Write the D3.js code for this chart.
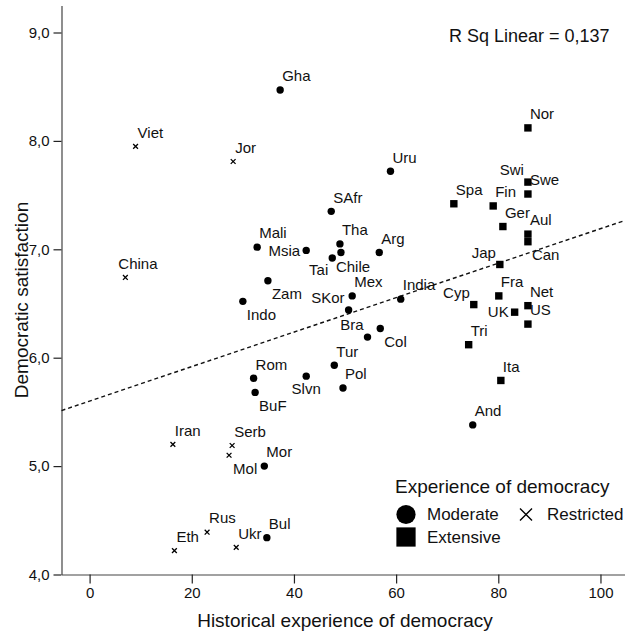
<!DOCTYPE html>
<html>
<head>
<meta charset="utf-8">
<script src="https://cdn.jsdelivr.net/npm/d3@7"></script>
<style>
  body { margin: 0; background: #fff; }
  svg { display: block; font-family: "Liberation Sans", Arial, sans-serif; }
</style>
</head>
<body>
<div id="chart"></div>
<script>
// data
const countries = ['Viet', 'Jor', 'China', 'Iran', 'Serb', 'Mol', 'Rus', 'Eth', 'Ukr',
  'Gha', 'SAfr', 'Uru', 'Mali', 'Msia', 'Zam', 'Indo', 'Tai', 'Tha', 'Chile', 'Arg', 'Mex',
  'SKor', 'India', 'Bra', 'Col', 'Tur', 'Pol', 'Slvn', 'Rom', 'BuF', 'Mor', 'Bul', 'And',
  'Nor', 'Swi', 'Swe', 'Fin', 'Spa', 'Ger', 'Aul', 'Can', 'Jap', 'Fra', 'Net', 'US', 'UK',
  'Cyp', 'Tri', 'Ita'];
const democracyHistory = [9.0, 28.1, 7.0, 16.3, 27.9, 27.3, 23.0, 16.6, 28.7,
  37.3, 47.3, 58.9, 32.8, 42.4, 34.9, 30.0, 47.5, 49.0, 49.2, 56.7, 51.4,
  50.7, 60.9, 54.4, 56.9, 47.9, 49.6, 42.4, 32.1, 32.4, 34.2, 34.7, 75.0,
  85.8, 85.8, 85.8, 79.0, 71.3, 80.9, 85.8, 85.8, 80.3, 80.1, 85.8, 85.8, 83.2,
  75.2, 74.2, 80.5];
const satisfaction = [7.95, 7.81, 6.74, 5.20, 5.19, 5.10, 4.39, 4.22, 4.25,
  8.47, 7.35, 7.72, 7.02, 6.99, 6.71, 6.52, 6.92, 7.05, 6.97, 6.97, 6.57,
  6.44, 6.54, 6.19, 6.27, 5.93, 5.72, 5.83, 5.81, 5.68, 5.00, 4.34, 5.38,
  8.12, 7.62, 7.51, 7.40, 7.42, 7.21, 7.14, 7.07, 6.86, 6.57, 6.48, 6.31, 6.42,
  6.49, 6.12, 5.79];
const experience = ['Restricted', 'Restricted', 'Restricted', 'Restricted', 'Restricted',
  'Restricted', 'Restricted', 'Restricted', 'Restricted',
  'Moderate', 'Moderate', 'Moderate', 'Moderate', 'Moderate', 'Moderate', 'Moderate',
  'Moderate', 'Moderate', 'Moderate', 'Moderate', 'Moderate', 'Moderate', 'Moderate',
  'Moderate', 'Moderate', 'Moderate', 'Moderate', 'Moderate', 'Moderate', 'Moderate',
  'Moderate', 'Moderate', 'Moderate',
  'Extensive', 'Extensive', 'Extensive', 'Extensive', 'Extensive', 'Extensive', 'Extensive',
  'Extensive', 'Extensive', 'Extensive', 'Extensive', 'Extensive', 'Extensive', 'Extensive',
  'Extensive', 'Extensive'];
// where each label sits relative to its point
const labelPos = ['ne', 'ne', 'n', 'ne', 'ne', 'se', 'ne', 'ne', 'ne',
  'ne', 'ne', 'ne', 'ne', 'w', 'se', 'se', 'sw', 'ne', 's', 'ne', 'ne',
  'nw', 'ne', 'nw', 'se', 'ne', 'ne', 'sc', 'ne', 'se', 'ne', 'ne', 'ne',
  'ne', 'nw', 'ne', 'ne', 'ne', 'ne', 'ne', 'se', 'nw', 'ne', 'ne', 'ne', 'w',
  'nw', 'ne', 'ne'];
const xTicks = [0, 20, 40, 60, 80, 100];
const yTicks = [4, 5, 6, 7, 8, 9];
const fitIntercept = 5.60;
const fitSlope = 0.0159;
const rSquared = '0,137';
const legendGroups = ['Moderate', 'Restricted', 'Extensive'];

let width = 625, height = 634;
let plotLeft = 61.5, plotRight = 625.5, plotTop = 5.4, plotBottom = 574.5;

let data = countries.map((c, i) => ({
  name: c, x: democracyHistory[i], y: satisfaction[i], group: experience[i], pos: labelPos[i]
}));

let xScale = d3.scaleLinear().domain([-5.5, 104.9]).range([plotLeft, plotRight]);
let yScale = d3.scaleLinear().domain([4, 9.25]).range([plotBottom, plotTop]);

let svg = d3.select('#chart').append('svg')
  .attr('width', width)
  .attr('height', height);

// axes
let xAxis = svg.append('g')
  .attr('transform', 'translate(0,' + plotBottom + ')')
  .call(d3.axisBottom(xScale).tickValues(xTicks).tickSize(9).tickSizeOuter(0).tickPadding(4));
let yAxis = svg.append('g')
  .attr('transform', 'translate(' + plotLeft + ',0)')
  .call(d3.axisLeft(yScale).tickValues(yTicks).tickSize(8).tickSizeOuter(0).tickPadding(4)
    .tickFormat(d => d.toFixed(1).replace('.', ',')));
[xAxis, yAxis].forEach(a => {
  a.select('.domain').attr('stroke', '#444').attr('stroke-width', 1.2);
  a.selectAll('.tick line').attr('stroke', '#222').attr('stroke-width', 1.2);
  a.selectAll('.tick text')
    .attr('fill', '#111')
    .style('font-size', '15px')
    .style('font-family', '"Liberation Sans", Arial, sans-serif');
});

svg.append('text')
  .attr('x', 345)
  .attr('y', 627)
  .attr('text-anchor', 'middle')
  .style('font-size', '19px')
  .attr('fill', '#111')
  .text('Historical experience of democracy');

svg.append('text')
  .attr('transform', 'translate(28,300) rotate(-90)')
  .attr('text-anchor', 'middle')
  .style('font-size', '19px')
  .attr('fill', '#111')
  .text('Democratic satisfaction');

// fit line
let x0 = xScale.domain()[0], x1 = xScale.domain()[1];
svg.append('line')
  .attr('x1', xScale(x0))
  .attr('y1', yScale(fitIntercept + fitSlope * x0))
  .attr('x2', xScale(x1))
  .attr('y2', yScale(fitIntercept + fitSlope * x1))
  .attr('stroke', '#111')
  .attr('stroke-width', 1.4)
  .attr('stroke-dasharray', '4,3');

svg.append('text')
  .attr('x', 449)
  .attr('y', 41.5)
  .style('font-size', '18px')
  .attr('fill', '#111')
  .text('R Sq Linear = ' + rSquared);

// markers
let drawMarker = function(g, group, s) {
  if (group === 'Moderate') {
    g.append('circle').attr('r', 3.7 * s).attr('fill', '#000');
  } else if (group === 'Extensive') {
    g.append('rect')
      .attr('x', -3.7 * s).attr('y', -3.7 * s)
      .attr('width', 7.4 * s).attr('height', 7.4 * s)
      .attr('fill', '#000');
  } else {
    let h = 2.4 * s;
    g.append('path')
      .attr('d', 'M' + -h + ',' + -h + 'L' + h + ',' + h + 'M' + -h + ',' + h + 'L' + h + ',' + -h)
      .attr('stroke', '#000')
      .attr('stroke-width', s > 1 ? 1.4 : 1.3)
      .attr('fill', 'none');
  }
};

let points = svg.selectAll('g.pt')
  .data(data)
  .enter()
  .append('g')
  .attr('class', 'pt')
  .attr('transform', d => 'translate(' + xScale(d.x) + ',' + yScale(d.y) + ')');
points.each(function(d) { drawMarker(d3.select(this), d.group, 1); });

let offsets = {
  ne: ['start', 2, -14],
  n: ['start', -7, -14],
  nw: ['end', -4, -12],
  e: ['start', 5, 0],
  w: ['end', -6, 0],
  se: ['start', 4, 13],
  s: ['start', -5, 14],
  sc: ['middle', 0, 13],
  sw: ['end', -4, 12]
};

points.append('text')
  .text(d => d.name)
  .attr('text-anchor', d => offsets[d.pos][0])
  .attr('x', d => offsets[d.pos][1])
  .attr('y', d => offsets[d.pos][2])
  .attr('dy', '0.35em')
  .style('font-size', '15px')
  .attr('fill', '#111');

// legend
let legend = svg.append('g');
legend.append('text')
  .attr('x', 395)
  .attr('y', 493)
  .style('font-size', '19px')
  .attr('fill', '#111')
  .text('Experience of democracy');

let legendSpots = {
  Moderate: [406, 514.5],
  Restricted: [526, 514.5],
  Extensive: [406, 537]
};
legendGroups.forEach(g => {
  let p = legendSpots[g];
  let item = legend.append('g').attr('transform', 'translate(' + p[0] + ',' + p[1] + ')');
  drawMarker(item, g, g === 'Restricted' ? 2.5 : 2.6);
  item.append('text')
    .attr('x', 21)
    .attr('dy', '0.35em')
    .style('font-size', '17px')
    .attr('fill', '#111')
    .text(g);
});
</script>
</body>
</html>
